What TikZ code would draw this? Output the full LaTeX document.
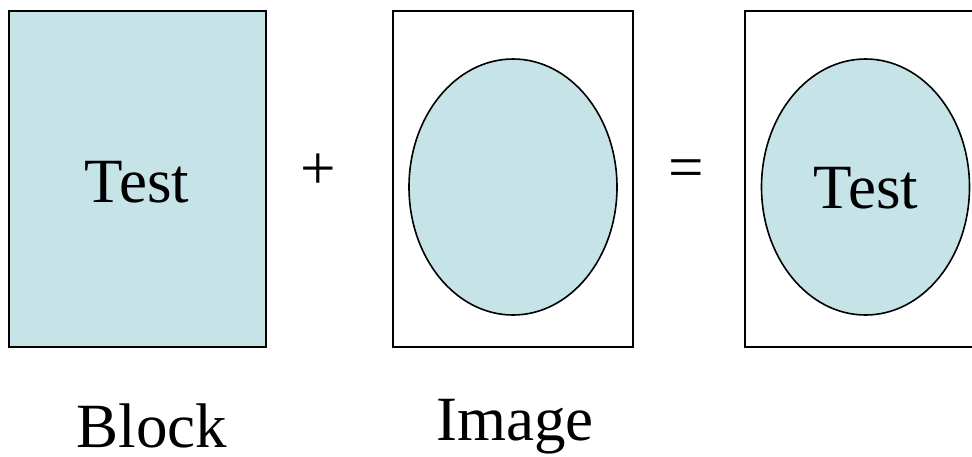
\documentclass[tikz,border=0pt]{standalone}
\usepackage{fontspec}
\setmainfont{Liberation Serif}
\usetikzlibrary{positioning,shapes.geometric}
\definecolor{paleblue}{RGB}{198,228,232}

\begin{document}
\begin{tikzpicture}[x=1pt,y=-1pt,
    frame/.style={draw=black,line width=1.6pt,inner sep=0pt,minimum height=336pt},
    blob/.style={ellipse,draw=black,line width=1.6pt,fill=paleblue,inner sep=0pt,
      minimum width=208pt,minimum height=256pt},
    txt/.style={inner sep=0pt,anchor=base,font=\fontsize{63}{70}\selectfont}]
  \clip (0,0) rectangle (972,456);
  \node[frame,fill=paleblue,minimum width=257pt] (B) at (137.5,179) {};
  \node[frame,fill=white,minimum width=240pt] (I) at (513,179) {};
  \node[frame,fill=white,minimum width=240pt] (R) at (865,179) {};
  \node[blob] (E1) at (513,187) {};
  \node[blob] (E2) at (865.5,187) {};
  \node[txt] (t1) at (137,202) {Test};
  \node[txt] (t2) at (866,208) {Test};
  \node[txt] (plus) at (318,189) {+};
  \node[txt] (eq) at (686,188) {=};
  \node[txt] (lb) at (152,447) {Block};
  \node[txt] (li) at (515,440) {Image};
\end{tikzpicture}
\end{document}
